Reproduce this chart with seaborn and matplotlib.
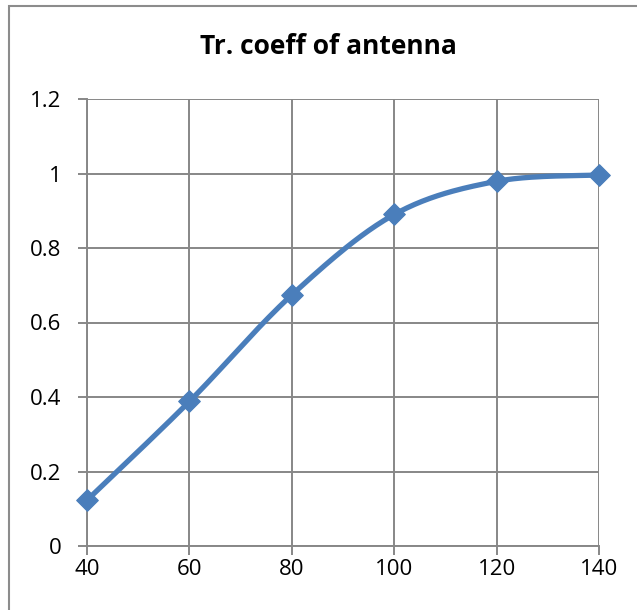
import numpy as np
import pandas as pd
import matplotlib
matplotlib.use("Agg")
import matplotlib.pyplot as plt
import seaborn as sns

# Transmission coefficient of the antenna vs. the swept parameter
x_vals = [40, 60, 80, 100, 120, 140]
tr_coeff = [0.123, 0.388, 0.674, 0.890, 0.979, 0.996]
x_ticks = [40, 60, 80, 100, 120, 140]
y_ticks = [0, 0.2, 0.4, 0.6, 0.8, 1.0, 1.2]
y_tick_labels = ["0", "0.2", "0.4", "0.6", "0.8", "1", "1.2"]
title = "Tr. coeff of antenna"

LINE_COLOR = "#4A7EBB"
GRID_COLOR = "#878787"


def smooth_curve(xs, ys, steps=40):
    """Spreadsheet-style smoothed line: cubic Bezier segments whose control
    points follow the neighbouring points (tension 1/6)."""
    p = np.column_stack([xs, ys]).astype(float)
    n = len(p)
    out = []
    for i in range(n - 1):
        p0 = p[i - 1] if i > 0 else p[i]
        p1, p2 = p[i], p[i + 1]
        p3 = p[i + 2] if i + 2 < n else p[i + 1]
        c1 = p1 + (p2 - p0) / 6.0
        c2 = p2 - (p3 - p1) / 6.0
        t = np.linspace(0, 1, steps, endpoint=(i == n - 2))[:, None]
        seg = ((1 - t) ** 3) * p1 + 3 * ((1 - t) ** 2) * t * c1 \
            + 3 * (1 - t) * t ** 2 * c2 + t ** 3 * p2
        out.append(seg)
    out = np.vstack(out)
    return out[:, 0], out[:, 1]


sns.set_theme(style="white")
plt.rcParams["font.family"] = ["Open Sans", "DejaVu Sans"]

fig = plt.figure(figsize=(6.37, 6.10), dpi=100)
ax = fig.add_axes([87 / 637, 1 - 546 / 610, (599 - 87) / 637, (546 - 99) / 610])

# chart-area frame
fig.patches.append(plt.Rectangle((9 / 637, -0.05), 1.2, 1 - 6 / 610 + 0.05,
                                 transform=fig.transFigure, fill=False,
                                 edgecolor="#8C8C8C", linewidth=1.5))

df = pd.DataFrame({"x": x_vals, "y": tr_coeff})
sx, sy = smooth_curve(x_vals, tr_coeff)
curve = pd.DataFrame({"x": sx, "y": sy})

sns.lineplot(data=curve, x="x", y="y", ax=ax, color=LINE_COLOR,
             linewidth=3.8, sort=False, zorder=3)
sns.scatterplot(data=df, x="x", y="y", ax=ax, marker="D", s=120,
                color=LINE_COLOR, edgecolor=LINE_COLOR, zorder=4, clip_on=False)

ax.set_xlim(40, 140)
ax.set_ylim(0, 1.2)
ax.set_xticks(x_ticks)
ax.set_yticks(y_ticks)
ax.set_yticklabels(y_tick_labels)
ax.set_xlabel("")
ax.set_ylabel("")

ax.grid(True, color=GRID_COLOR, linewidth=1.4)
for side in ["top", "right"]:
    ax.spines[side].set_visible(False)
for side in ["left", "bottom"]:
    ax.spines[side].set_color(GRID_COLOR)
    ax.spines[side].set_linewidth(1.4)

ax.tick_params(axis="both", which="major", direction="out", length=6.5,
               width=1.4, color=GRID_COLOR, labelsize=16, labelcolor="black",
               left=True, bottom=True)
ax.tick_params(axis="y", pad=12)
ax.tick_params(axis="x", pad=3)
ax.set_axisbelow(True)

fig.text(0.515, 1 - 47 / 610, title, ha="center", va="center",
         fontsize=19, fontweight="bold", color="black")

fig.savefig("out.png", dpi=100, facecolor="white")
